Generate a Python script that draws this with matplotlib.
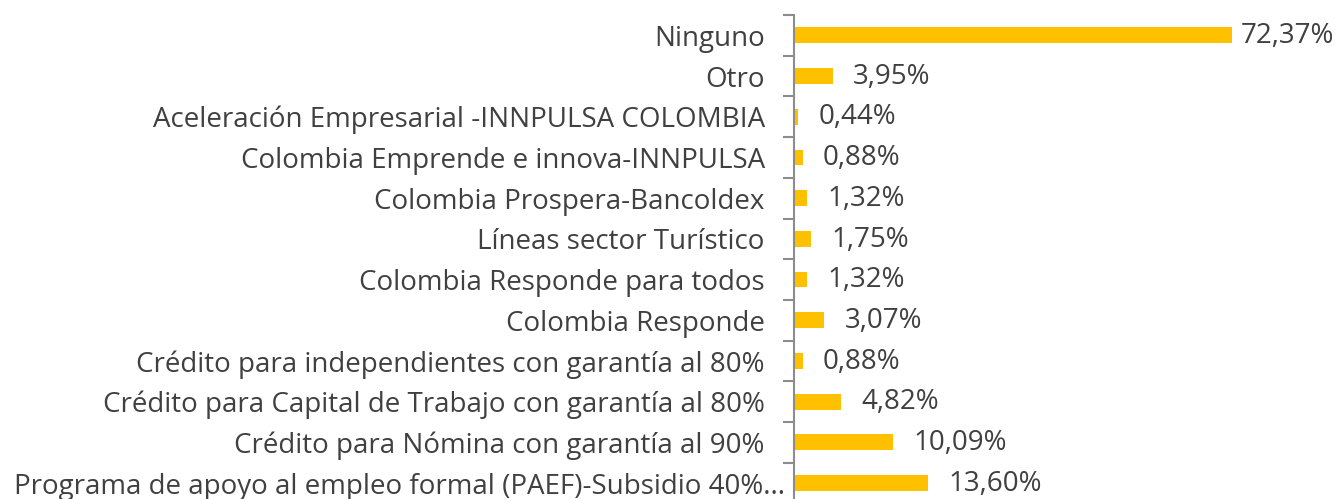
import matplotlib
matplotlib.use("Agg")
import matplotlib.pyplot as plt
import matplotlib.transforms as mtransforms
import numpy as np

categories = [
    "Ninguno",
    "Otro",
    "Aceleración Empresarial -INNPULSA COLOMBIA",
    "Colombia Emprende e innova-INNPULSA",
    "Colombia Prospera-Bancoldex",
    "Líneas sector Turístico",
    "Colombia Responde para todos",
    "Colombia Responde",
    "Crédito para independientes con garantía al 80%",
    "Crédito para Capital de Trabajo con garantía al 80%",
    "Crédito para Nómina con garantía al 90%",
    "Programa de apoyo al empleo formal (PAEF)-Subsidio 40%...",
]
values = [72.37, 3.95, 0.44, 0.88, 1.32, 1.75, 1.32, 3.07, 0.88, 4.82, 10.09, 13.60]
value_labels = ["72,37%", "3,95%", "0,44%", "0,88%", "1,32%", "1,75%", "1,32%",
                "3,07%", "0,88%", "4,82%", "10,09%", "13,60%"]

plt.rcParams['font.family'] = ['Open Sans', 'DejaVu Sans']
FS = 20
W, H = 1337, 499
fig = plt.figure(figsize=(W / 100, H / 100), dpi=100)
ax_left = 794 / W
ax_w = 438 / W
top_px = 15
bottom_px = 15 + 12 * 40.7
ax = fig.add_axes([ax_left, (H - bottom_px) / H, ax_w, (bottom_px - top_px) / H])

xmax = 44.5
n = len(categories)
y = np.arange(n)
ax.barh(y, values, height=0.39, color="#FFC000", zorder=2)
ax.set_xlim(0, xmax)
ax.set_ylim(n - 0.5, -0.5)

text_color = "#404040"
for yi, v, lab in zip(y, values, value_labels):
    if v > xmax:
        ax.annotate(lab, (xmax, yi), xytext=(6.5, -0.5), textcoords="offset points",
                    va="center", ha="left", fontsize=FS, color=text_color,
                    annotation_clip=False)
    else:
        ax.annotate(lab, (v, yi), xytext=(14.5, -0.5), textcoords="offset points",
                    va="center", ha="left", fontsize=FS, color=text_color,
                    annotation_clip=False)

ax.set_yticks(y)
ax.set_yticklabels(categories, fontsize=FS, color=text_color)
ax.tick_params(axis="y", which="major", length=0, pad=21)
ax.set_yticks(np.arange(n + 1) - 0.5, minor=True)
ax.tick_params(axis="y", which="minor", length=8, width=1.5, color="#8C8C8C")
ax.set_xticks([])
for s in ["top", "right", "bottom"]:
    ax.spines[s].set_visible(False)
ax.spines["left"].set_color("#8C8C8C")
ax.spines["left"].set_linewidth(1.5)
ax.patch.set_alpha(0)

# the truncated last label sits closer to the axis in the reference
last = ax.get_yticklabels()[-1]
last.set_transform(last.get_transform() + mtransforms.ScaledTranslation(20 / 100, 0, fig.dpi_scale_trans))

fig.savefig("out.png", dpi=100, facecolor="white")
